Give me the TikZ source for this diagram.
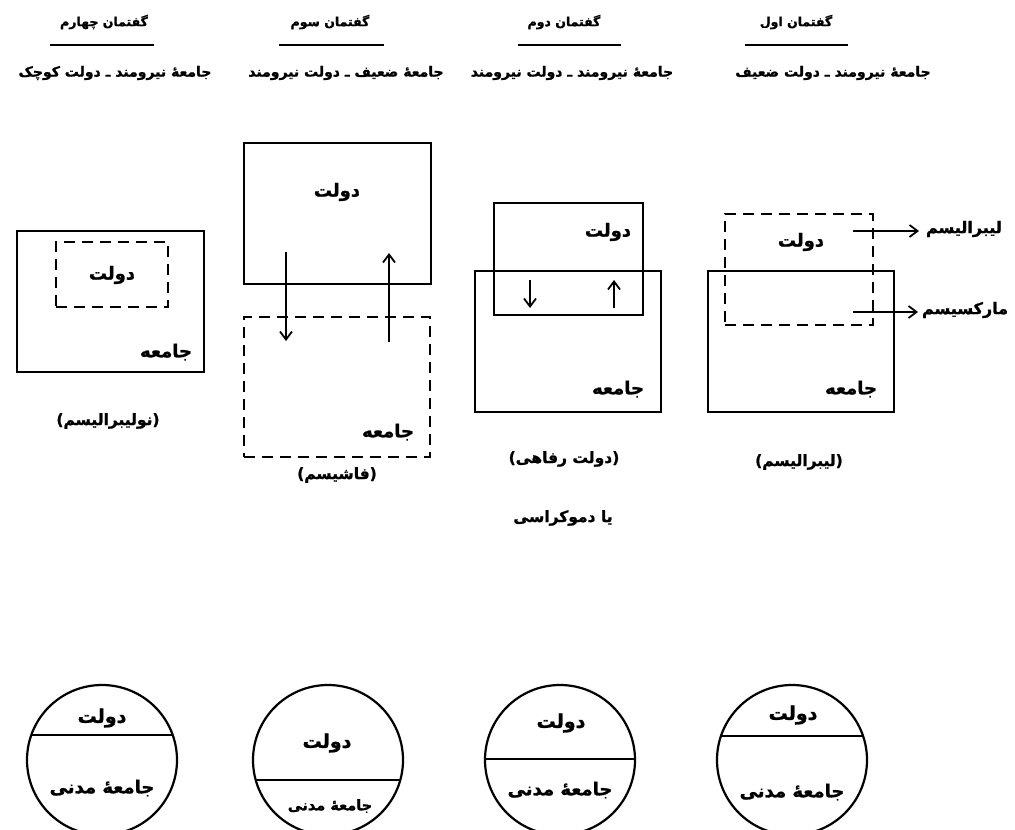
\documentclass[tikz,border=0pt]{standalone}
\usepackage{fontspec}
\usetikzlibrary{arrows.meta}
\newfontfamily\fa[Script=Arabic, BoldFeatures={FakeBold=1.2}]{DejaVu Sans}
\newfontfamily\lat[BoldFeatures={FakeBold=1.2}]{DejaVu Sans}
\TeXXeTstate=1
\newcommand{\rl}[1]{\beginR #1\endR}
\newcommand{\paren}[1]{{\lat\bfseries(}\rl{#1}{\lat\bfseries)}}
\tikzset{
  every node/.style={inner sep=0pt, outer sep=0pt},
  hdr/.style={font=\fa\bfseries\fontsize{12.5}{15}\selectfont},
  subhdr/.style={font=\fa\bfseries\fontsize{14}{16}\selectfont},
  lbl/.style={font=\fa\bfseries\fontsize{18}{21}\selectfont},
  captxt/.style={font=\fa\bfseries\fontsize{15.5}{18}\selectfont},
  sidetxt/.style={font=\fa\bfseries\fontsize{16}{19}\selectfont},
  clbl/.style={font=\fa\bfseries\fontsize{19}{22}\selectfont},
  ctxt/.style={font=\fa\bfseries\fontsize{18}{21}\selectfont},
  csmall/.style={font=\fa\bfseries\fontsize{14.5}{17}\selectfont},
  solidbox/.style={draw, line width=2.2pt},
  dashbox/.style={draw, line width=2.2pt, dash pattern=on 11pt off 7pt},
  rulel/.style={line width=1.3pt},
  arr/.style={line width=1.6pt, -{Straight Barb[length=8pt,width=12pt,line width=1.8pt]}},
  circ/.style={draw, circle, line width=2.2pt, minimum size=150pt}
}
\begin{document}
\begin{tikzpicture}[x=1pt,y=-1pt]
\useasboundingbox (0,0) rectangle (1015,830);
% ---------- headers ----------
\node[hdr] (h4) at (104,22) {\rl{گفتمان چهارم}};
\node[hdr] (h3) at (330,22) {\rl{گفتمان سوم}};
\node[hdr] (h2) at (564,22) {\rl{گفتمان دوم}};
\node[hdr] (h1) at (796,22) {\rl{گفتمان اول}};
\coordinate (l4a) at (50,45);  \coordinate (l4b) at (154,45);
\coordinate (l3a) at (279,45); \coordinate (l3b) at (384,45);
\coordinate (l2a) at (518,45); \coordinate (l2b) at (621,45);
\coordinate (l1a) at (745,45); \coordinate (l1b) at (848,45);
\draw[rulel] (l4a) -- (l4b);
\draw[rulel] (l3a) -- (l3b);
\draw[rulel] (l2a) -- (l2b);
\draw[rulel] (l1a) -- (l1b);
\node[subhdr] (s4) at (115,73) {\rl{جامعهٔ نیرومند ـ دولت کوچک}};
\node[subhdr] (s3) at (346,73) {\rl{جامعهٔ ضعیف ـ دولت نیرومند}};
\node[subhdr] (s2) at (572,73) {\rl{جامعهٔ نیرومند ـ دولت نیرومند}};
\node[subhdr] (s1) at (833,73) {\rl{جامعهٔ نیرومند ـ دولت ضعیف}};
% ---------- column 4 ----------
\node[solidbox, minimum width=187pt, minimum height=141pt] (soc4) at (110.5,301.5) {};
\node[dashbox, minimum width=112pt, minimum height=65pt] (st4) at (112,274.5) {};
\node[lbl] (st4t) at (112,275) {\rl{دولت}};
\node[lbl, anchor=east] (soc4t) at (192,352) {\rl{جامعه}};
\node[captxt] (cap4) at (108,421) {\paren{نولیبرالیسم}};
% ---------- column 3 ----------
\node[solidbox, minimum width=187pt, minimum height=141pt] (st3) at (337.5,213.5) {};
\node[dashbox, minimum width=186pt, minimum height=140pt] (soc3) at (337,387) {};
\node[lbl] (st3t) at (337,192) {\rl{دولت}};
\node[lbl, anchor=east] (soc3t) at (414,432) {\rl{جامعه}};
\node[captxt] (cap3) at (337,475) {\paren{فاشیسم}};
\coordinate (a3a) at (286,252); \coordinate (a3b) at (286,341);
\coordinate (a3c) at (389,342); \coordinate (a3d) at (389,253);
\draw[arr] (a3a) -- (a3b);
\draw[arr] (a3c) -- (a3d);
% ---------- column 2 ----------
\node[solidbox, minimum width=186pt, minimum height=141pt] (soc2) at (568,341.5) {};
\node[solidbox, minimum width=149pt, minimum height=112pt] (st2) at (568.5,259) {};
\node[lbl] (st2t) at (608,232) {\rl{دولت}};
\node[lbl, anchor=east] (soc2t) at (644,389) {\rl{جامعه}};
\node[captxt] (cap2) at (564,459) {\paren{دولت رفاهی}};
\node[captxt] (cap2b) at (563,518) {\rl{یا دموکراسی}};
\coordinate (a2a) at (530,280); \coordinate (a2b) at (530,308);
\coordinate (a2c) at (614,308); \coordinate (a2d) at (614,280);
\draw[arr] (a2a) -- (a2b);
\draw[arr] (a2c) -- (a2d);
% ---------- column 1 ----------
\node[solidbox, minimum width=186pt, minimum height=141pt] (soc1) at (801,341.5) {};
\node[dashbox, minimum width=148pt, minimum height=111pt] (st1) at (799,269.5) {};
\node[lbl] (st1t) at (801,242) {\rl{دولت}};
\node[lbl, anchor=east] (soc1t) at (877,389) {\rl{جامعه}};
\node[captxt] (cap1) at (799,462) {\paren{لیبرالیسم}};
\node[sidetxt, anchor=west] (lib) at (926,229) {\rl{لیبرالیسم}};
\node[sidetxt, anchor=west] (marx) at (922,310) {\rl{مارکسیسم}};
\coordinate (a1a) at (853,231);
\coordinate (a1b) at (853,312);
\draw[arr, shorten >=7pt] (a1a) -- (lib.west |- a1a);
\draw[arr, shorten >=4pt] (a1b) -- (marx.west |- a1b);
% ---------- circles ----------
\node[circ, path picture={\draw[line width=2.2pt] ([yshift=25pt]path picture bounding box.west) -- ([yshift=25pt]path picture bounding box.east);}] (c4) at (102,760) {};
\node[circ, path picture={\draw[line width=2.2pt] ([yshift=-20pt]path picture bounding box.west) -- ([yshift=-20pt]path picture bounding box.east);}] (c3) at (328,760) {};
\node[circ, path picture={\draw[line width=2.2pt] ([yshift=1pt]path picture bounding box.west) -- ([yshift=1pt]path picture bounding box.east);}] (c2) at (560,760) {};
\node[circ, path picture={\draw[line width=2.2pt] ([yshift=24pt]path picture bounding box.west) -- ([yshift=24pt]path picture bounding box.east);}] (c1) at (792,760) {};
\node[clbl] (c4a) at (102,718) {\rl{دولت}};
\node[ctxt] (c4b) at (102,788) {\rl{جامعهٔ مدنی}};
\node[clbl] (c3a) at (327,743) {\rl{دولت}};
\node[csmall] (c3b) at (330,806) {\rl{جامعهٔ مدنی}};
\node[clbl] (c2a) at (561,723) {\rl{دولت}};
\node[ctxt] (c2b) at (560,790) {\rl{جامعهٔ مدنی}};
\node[clbl] (c1a) at (793,715) {\rl{دولت}};
\node[ctxt] (c1b) at (792,792) {\rl{جامعهٔ مدنی}};
\end{tikzpicture}
\end{document}
